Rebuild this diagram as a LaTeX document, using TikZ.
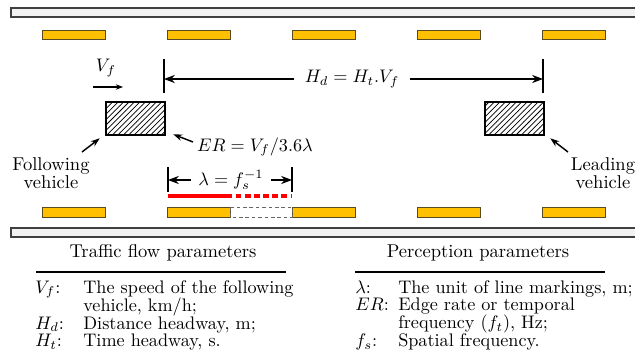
\documentclass[tikz,border=0pt]{standalone}
\usepackage{tikz}
\definecolor{laneYellow}{HTML}{FFC000}
\definecolor{laneEdge}{HTML}{5A4A20}
\definecolor{roadGray}{HTML}{F2F2F2}
\definecolor{roadLine}{HTML}{404040}
\definecolor{markRed}{HTML}{FF0000}
\usetikzlibrary{arrows.meta,positioning,patterns}

\begin{document}
\begin{tikzpicture}[
  x=0.55pt, y=-0.55pt,
  font=\fontsize{10.2pt}{12pt}\selectfont,
  roadedge/.style={draw=roadLine, fill=roadGray, line width=0.6pt},
  lanemark/.style={draw=laneEdge, fill=laneYellow, line width=0.5pt},
  ghostmark/.style={draw=black!60, line width=0.4pt, dash pattern=on 2pt off 1.5pt},
  vehicle/.style={draw, line width=1.4pt, pattern=north east lines, minimum width=32.4pt, minimum height=18.2pt, inner sep=0pt},
  dimtick/.style={line width=0.6pt},
  dimarrow/.style={-{Stealth[length=6pt,width=4.5pt]}, line width=0.7pt},
  callout/.style={-{Stealth[length=5pt,width=3.5pt]}, line width=0.8pt},
  redmark/.style={draw=markRed, line width=2.2pt},
  lbl/.style={align=center, inner sep=1pt, font=\fontsize{10.2pt}{10pt}\selectfont},
  paramtable/.style={anchor=base west, inner sep=0pt, font=\fontsize{10pt}{8.8pt}\selectfont},
  tablerule/.style={line width=1.3pt}
]
\useasboundingbox (0,0) rectangle (635,351);

% Road edges
\draw[roadedge] (11,8) rectangle (640,17);
\draw[roadedge] (11,228) rectangle (640,237);

% Lane markings
\foreach \x in {42,167,292,417,542} {
  \draw[lanemark] (\x,30) rectangle ++(63,9);
  \draw[lanemark] (\x,207) rectangle ++(63,10);
}
\draw[ghostmark] (230,207) rectangle (292,217);

% Vehicles
\node[vehicle] (follower) at (135.5,118.5) {};
\node[vehicle] (leader) at (514.5,118.5) {};

% Speed of the following vehicle
\node (vf) at (106,68) {$V_f$};
\coordinate (vfStart) at (93,87);
\coordinate (vfEnd) at (123,87);
\draw[-{Stealth[length=4pt,width=3pt]}, line width=0.6pt] (vfStart) -- (vfEnd);

% Distance headway
\coordinate (hdL) at (164,79);
\coordinate (hdR) at (543,79);
\draw[dimtick] (164,59) -- (164,93);
\draw[dimtick] (543,59) -- (543,93);
\node[inner xsep=6pt] (hd) at (352,79) {$H_d = H_t.V_f$};
\draw[dimarrow] (hd.west) -- (hdL);
\draw[dimarrow] (hd.east) -- (hdR);

% Vehicle labels
\node[lbl] (followLbl) at (51,173) {Following\\vehicle};
\coordinate (followTail) at (82,152);
\draw[callout] (followTail) -- ([shift={(-5,2)}]follower.south west);
\node[lbl] (leadLbl) at (603,173) {Leading\\vehicle};
\coordinate (leadTail) at (568,152);
\draw[callout] (leadTail) -- ([shift={(5,2)}]leader.south east);

% Edge rate
\node[anchor=west, inner sep=1pt] (er) at (195,147) {$ER = V_f/3.6\lambda$};
\coordinate (erTail) at (193,142);
\draw[callout] (erTail) -- ([shift={(7,-2)}]follower.south east);

% Unit of line markings
\coordinate (lamL) at (168,180);
\coordinate (lamR) at (292,180);
\draw[dimtick] (168,167) -- (168,192);
\draw[dimtick] (292,167) -- (292,192);
\node[inner xsep=4pt] (lam) at (231,180) {$\lambda = f_s^{-1}$};
\draw[dimarrow] (lam.west) -- (lamL);
\draw[dimarrow] (lam.east) -- (lamR);
\draw[redmark] (168,196) -- (232,196);
\draw[redmark, dash pattern=on 3pt off 2pt] (236,196) -- (292,196);

% Traffic flow parameters
\node (tfTitle) at (163,253) {Traffic flow parameters};
\draw[tablerule] (36,272) -- (286,272);
\node[paramtable] (tfTable) at (35,293) {%
  \begin{tabular}[t]{@{}p{26.4pt}@{}l@{}}
    $V_f$: & The speed of the following\\
           & vehicle, km/h;\\
    $H_d$: & Distance headway, m;\\
    $H_t$: & Time headway, s.
  \end{tabular}};

% Perception parameters
\node (ppTitle) at (478,253) {Perception parameters};
\draw[tablerule] (355,272) -- (605,272);
\node[paramtable] (ppTable) at (355,293) {%
  \begin{tabular}[t]{@{}p{23.6pt}@{}l@{}}
    $\lambda$: & The unit of line markings, m;\\
    $ER$:      & Edge rate or temporal\\
               & frequency $(f_t)$, Hz;\\
    $f_s$:     & Spatial frequency.
  \end{tabular}};

\end{tikzpicture}
\end{document}
